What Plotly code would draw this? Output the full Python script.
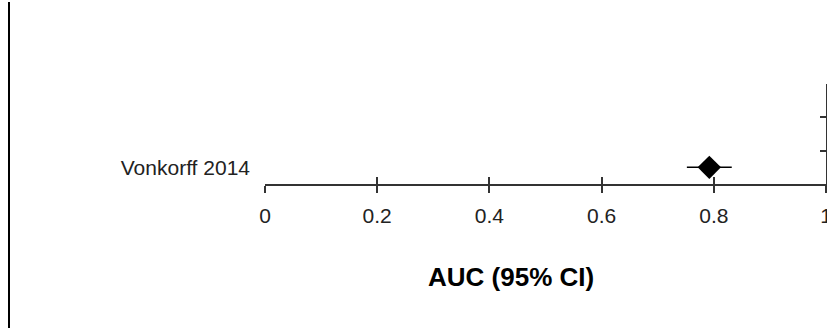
import plotly.graph_objects as go

studies = ["Vonkorff 2014"]
auc = [0.792]
ci_low = [0.752]
ci_high = [0.832]
row_pos = [0.5]
x_ticks = [0, 0.2, 0.4, 0.6, 0.8, 1]
x_tick_labels = ["0", "0.2", "0.4", "0.6", "0.8", "1"]
row_ticks = [0, 1, 2, 3]

W, H = 827, 329
ML, MT = 265, 84
PW, PH = 561, 100
MR = W - ML - PW
MB = H - MT - PH


def px_x(page_x):
    return (page_x - ML) / PW


def px_y(page_y):
    return (MT + PH - page_y) / PH


fig = go.Figure()
fig.add_trace(go.Scatter(
    x=auc, y=row_pos, mode="markers",
    marker=dict(symbol="diamond", size=18, color="black", line=dict(width=0)),
    error_x=dict(type="data", symmetric=False,
                 array=[h - a for h, a in zip(ci_high, auc)],
                 arrayminus=[a - l for a, l in zip(auc, ci_low)],
                 color="black", thickness=1.5, width=0),
    showlegend=False, hoverinfo="skip", cliponaxis=False))
fig.add_trace(go.Scatter(x=[None], y=[None], xaxis="x2", yaxis="y2", showlegend=False))

font = dict(family="Liberation Sans, Arial, sans-serif", size=21, color="#222")

fig.update_layout(
    width=W, height=H, autosize=False,
    margin=dict(l=ML, r=MR, t=MT, b=MB, pad=0, autoexpand=False),
    paper_bgcolor="white", plot_bgcolor="white",
    font=font,
    xaxis=dict(range=[0, 1], tickvals=x_ticks, ticktext=x_tick_labels, automargin=False,
               showgrid=False, zeroline=False, showline=True, linecolor="#333", linewidth=1.5,
               ticks="outside", ticklen=7, tickwidth=1.5, tickcolor="#333",
               ticklabelstandoff=5, ticklabeloverflow="allow", tickfont=font),
    xaxis2=dict(range=[0, 1], overlaying="x", anchor="y", side="bottom", automargin=False,
                tickvals=x_ticks, showticklabels=False, showgrid=False, zeroline=False,
                showline=False, ticks="inside", ticklen=7, tickwidth=1.5, tickcolor="#333"),
    yaxis=dict(range=[0, 3], tickvals=row_pos, ticktext=studies, showgrid=False, automargin=False,
               zeroline=False, showline=False, ticks="", ticklabelstandoff=14, tickfont=font),
    yaxis2=dict(range=[0, 3], overlaying="y", anchor="x", side="right", automargin=False,
                tickvals=row_ticks, showticklabels=False, showgrid=False, zeroline=False,
                showline=True, linecolor="#333", linewidth=1.5,
                ticks="inside", ticklen=6, tickwidth=1.5, tickcolor="#333"),
    shapes=[dict(type="line", xref="paper", yref="paper",
                 x0=px_x(9), x1=px_x(9),
                 y0=px_y(2), y1=px_y(328),
                 line=dict(color="black", width=2))],
    annotations=[dict(text="<b>AUC (95% CI)</b>", xref="paper", yref="paper",
                      x=px_x(511), y=px_y(277),
                      xanchor="center", yanchor="middle", showarrow=False,
                      font=dict(family="Liberation Sans, Arial, sans-serif", size=26, color="black"))],
)

fig.write_html(
    "out.html",
    config={"displayModeBar": False, "responsive": False},
    default_width="827px", default_height="329px",
    post_script="document.body.style.margin='0';document.documentElement.style.overflow='hidden';",
)
